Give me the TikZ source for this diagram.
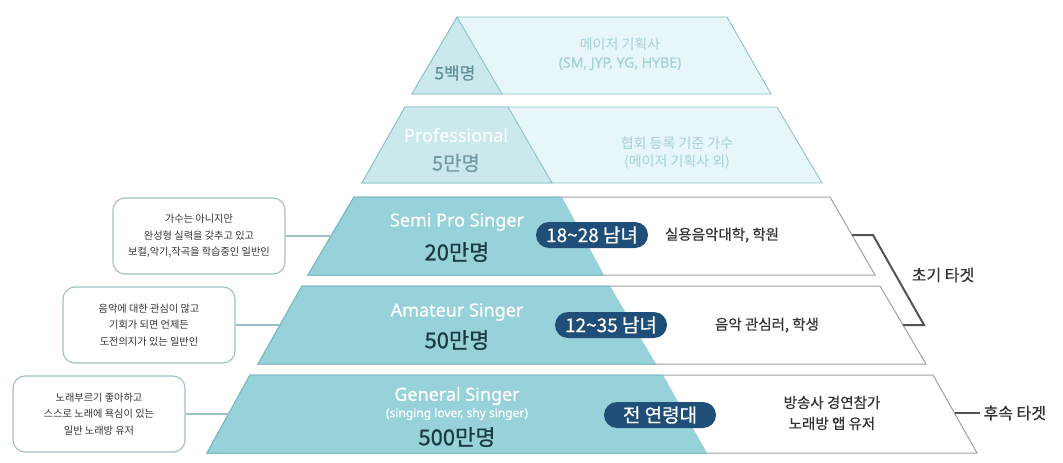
\documentclass[tikz,border=0pt]{standalone}
\usepackage{fontspec}
\setmainfont{Noto Sans CJK KR}
\newfontfamily\medfont[FakeBold=0.6]{Noto Sans CJK KR}
\newfontfamily\latinfont[FakeBold=0.6]{Noto Sans}
\usepackage{tikz}
\usetikzlibrary{positioning, calc}
\definecolor{tealfill}{HTML}{97D1D9}
\definecolor{tealedge}{HTML}{74BCC6}
\definecolor{palefill}{HTML}{E7F6F8}
\definecolor{paledark}{HTML}{CBE9ED}
\definecolor{paleedge}{HTML}{8CC3CA}
\definecolor{paleink}{HTML}{A3D2D8}
\definecolor{paledeep}{HTML}{62909A}
\definecolor{navy}{HTML}{1F4E79}
\definecolor{edgegray}{HTML}{A0A0A0}
\definecolor{boxedge}{HTML}{9CC0C6}
\definecolor{inkdark}{HTML}{1B3A42}
\definecolor{inkgray}{HTML}{333333}

\begin{document}
\begin{tikzpicture}[
    x=1pt, y=-1pt,
    desc/.style={draw=boxedge, line width=1.1pt, fill=white, rounded corners=12pt,
                 minimum width=172pt, minimum height=76pt, align=center,
                 font=\fontsize{10.2}{16.5}\selectfont, text=inkgray},
    badge/.style={fill=navy, rounded corners=13pt, minimum width=112pt, minimum height=26pt,
                  inner sep=0pt, text=white, font=\medfont\fontsize{19}{19}\selectfont},
    tiername/.style={text=white, font=\latinfont\fontsize{18}{18}\selectfont},
    headcount/.style={text=inkdark, font=\medfont\fontsize{22}{22}\selectfont},
    tierinfo/.style={text=inkgray, align=center, font=\medfont\fontsize{14.5}{21}\selectfont},
    paleinfo/.style={text=paleink, align=center, font=\fontsize{14}{18}\selectfont},
    link/.style={boxedge, line width=1.1pt},
    targetlabel/.style={text=inkgray, font=\medfont\fontsize{16}{16}\selectfont},
  ]
    \useasboundingbox (0,0) rectangle (1063,463);

    % pale top tiers
    \filldraw[fill=palefill, draw=paleedge, line width=0.9pt] (457,17) -- (727,17) -- (771,94) -- (412,94) -- cycle;
    \filldraw[fill=paledark, draw=paleedge, line width=0.9pt] (457,17) -- (502,94) -- (412,94) -- cycle;
    \filldraw[fill=palefill, draw=paleedge, line width=0.9pt] (405,107) -- (777,107) -- (822,183) -- (362,183) -- cycle;
    \filldraw[fill=paledark, draw=paleedge, line width=0.9pt] (405,107) -- (508,107) -- (552,183) -- (362,183) -- cycle;

    % target tiers
    \filldraw[fill=white, draw=edgegray, line width=1pt] (354,197) -- (830,197) -- (875,275) -- (308,275) -- cycle;
    \fill[tealfill] (354,197) -- (562,197) -- (604,275) -- (308,275) -- cycle;
    \draw[tealedge, line width=1pt] (562,197) -- (354,197) -- (308,275) -- (604,275);
    \filldraw[fill=white, draw=edgegray, line width=1pt] (302,286) -- (880,286) -- (926,364) -- (258,364) -- cycle;
    \fill[tealfill] (302,286) -- (610,286) -- (656,364) -- (258,364) -- cycle;
    \draw[tealedge, line width=1pt] (610,286) -- (302,286) -- (258,364) -- (656,364);
    \filldraw[fill=white, draw=edgegray, line width=1pt] (250,375) -- (933,375) -- (977,453) -- (207,453) -- cycle;
    \fill[tealfill] (250,375) -- (663,375) -- (707,453) -- (207,453) -- cycle;
    \draw[tealedge, line width=1pt] (663,375) -- (250,375) -- (207,453) -- (707,453);

    \coordinate (semiw) at (331,236);
    \coordinate (amaw) at (280,325);
    \coordinate (genw) at (228.5,414);
    \coordinate (semie) at (852,235);
    \coordinate (amae) at (903,325);
    \coordinate (gene) at (954.5,413);

    \node[text=paledeep, font=\medfont\fontsize{17}{17}\selectfont] (majorcount) at (455,73) {5백명};
    \node[paleinfo] (majorinfo) at (620,54) {메이저 기획사\\{\latinfont (SM, JYP, YG, HYBE)}};
    \node[text=white!70!palefill, font=\latinfont\fontsize{18}{18}\selectfont] (proname) at (456,135) {Professional};
    \node[text=paledeep!90!white, font=\medfont\fontsize{20}{20}\selectfont] (procount) at (456,163) {5만명};
    \node[paleinfo] (proinfo) at (677,153) {협회 등록 기준 가수\\(메이저 기획사 외)};

    \node[tiername] (seminame) at (457,222) {Semi Pro Singer};
    \node[headcount] (semicount) at (457,252) {20만명};
    \node[tiername] (amaname) at (457,312) {Amateur Singer};
    \node[headcount] (amacount) at (457,340) {50만명};
    \node[tiername] (genname) at (457,396) {General Singer};
    \node[text=white, font=\latinfont\fontsize{12}{12}\selectfont] (gensub) at (457,414) {(singing lover, shy singer)};
    \node[headcount] (gencount) at (457,437) {500만명};

    \node[badge] (semiage) at (592,235) {18\textasciitilde28 남녀};
    \node[badge] (amaage) at (611,325) {12\textasciitilde35 남녀};
    \node[badge] (genage) at (660,415) {전 연령대};

    \node[tierinfo] (semiinfo) at (722,235) {실용음악대학, 학원};
    \node[tierinfo] (amainfo) at (767,325) {음악 관심러, 학생};
    \node[tierinfo] (geninfo) at (832,413) {방송사 경연참가\\노래방 앱 유저};

    \node[desc] (semibox) at (199,236) {가수는 아니지만\\완성형 실력을 갖추고 있고\\보컬,악기,작곡을 학습중인 일반인};
    \node[desc] (amabox) at (149,325) {음악에 대한 관심이 많고\\기회가 되면 언제든\\도전의지가 있는 일반인};
    \node[desc] (genbox) at (99,414) {노래부르기 좋아하고\\스스로 노래에 욕심이 있는\\일반 노래방 유저};

    \draw[link] (semibox) -- (semiw);
    \draw[link] (amabox) -- (amaw);
    \draw[link] (genbox) -- (genw);

    \node[targetlabel] (early) at (943,275) {초기 타겟};
    \node[targetlabel, anchor=west] (late) at (980,413) {후속 타겟};
    \draw[inkgray!85, line width=2pt] (semie) -- ++(21,0) -- ([xshift=21pt]amae) -- (amae);
    \draw[inkgray!85, line width=2pt] (gene) -- (late.west);
  \end{tikzpicture}
\end{document}
